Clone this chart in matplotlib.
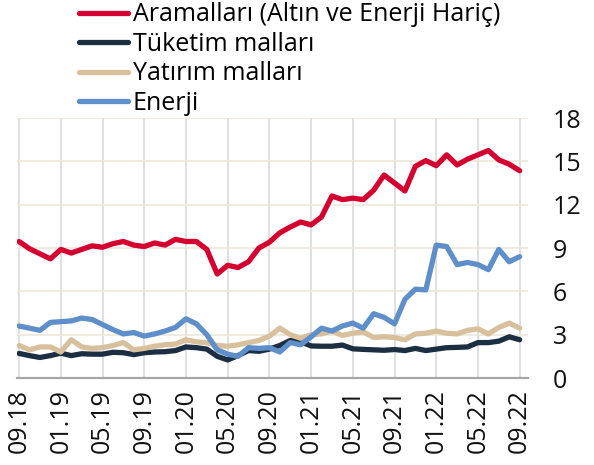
import matplotlib
matplotlib.use('Agg')
import matplotlib.pyplot as plt
import numpy as np

plt.rcParams['font.family'] = ['Open Sans', 'DejaVu Sans']

# monthly series, 09.18 .. 09.22
ara_mallari = [9.45, 8.95, 8.6, 8.25, 8.9, 8.65, 8.9, 9.15, 9.05, 9.3,
               9.45, 9.2, 9.1, 9.35, 9.2, 9.6, 9.45, 9.45, 8.9, 7.2,
               7.8, 7.65, 8.05, 9.0, 9.4, 10.05, 10.45, 10.8, 10.6, 11.15,
               12.6, 12.35, 12.45, 12.35, 13.0, 14.05, 13.5, 12.95, 14.65, 15.05,
               14.7, 15.45, 14.75, 15.15, 15.45, 15.75, 15.1, 14.8, 14.35]
tuketim = [1.7, 1.55, 1.42, 1.55, 1.72, 1.55, 1.68, 1.65, 1.65, 1.78,
           1.75, 1.62, 1.75, 1.8, 1.82, 1.9, 2.15, 2.1, 2.0, 1.5,
           1.25, 1.55, 1.9, 1.85, 2.0, 2.25, 2.6, 2.5, 2.22, 2.2,
           2.2, 2.28, 2.02, 1.98, 1.95, 1.92, 1.97, 1.9, 2.05, 1.9,
           2.0, 2.1, 2.12, 2.15, 2.45, 2.45, 2.55, 2.85, 2.65]
yatirim = [2.25, 1.95, 2.15, 2.15, 1.8, 2.65, 2.15, 2.05, 2.1, 2.25,
           2.45, 1.95, 2.05, 2.2, 2.3, 2.35, 2.65, 2.5, 2.45, 2.25,
           2.2, 2.3, 2.45, 2.6, 2.9, 3.45, 3.0, 2.75, 3.0, 3.05,
           3.25, 2.95, 3.1, 3.2, 2.8, 2.85, 2.8, 2.65, 3.05, 3.1,
           3.25, 3.1, 3.05, 3.3, 3.4, 3.05, 3.5, 3.8, 3.45]
enerji = [3.6, 3.45, 3.3, 3.85, 3.9, 3.95, 4.15, 4.05, 3.7, 3.35,
          3.05, 3.15, 2.9, 3.05, 3.25, 3.5, 4.1, 3.75, 3.0, 1.95,
          1.65, 1.5, 2.1, 2.05, 2.1, 1.8, 2.45, 2.3, 2.85, 3.45,
          3.25, 3.6, 3.8, 3.45, 4.45, 4.2, 3.75, 5.45, 6.15, 6.1,
          9.2, 9.1, 7.85, 8.0, 7.85, 7.5, 8.9, 8.05, 8.4]
tick_labels = ['09.18', '01.19', '05.19', '09.19', '01.20', '05.20', '09.20',
               '01.21', '05.21', '09.21', '01.22', '05.22', '09.22']

series = [
    ('Aramalları (Altın ve Enerji Hariç)', ara_mallari, '#d4002f'),
    ('Tüketim malları', tuketim, '#1c2e42'),
    ('Yatırım malları', yatirim, '#d8c09c'),
    ('Enerji', enerji, '#5f8fca'),
]

fig = plt.figure(figsize=(5.94, 4.65), dpi=100)
ax = fig.add_axes([17 / 594, 87 / 465, 511 / 594, 260 / 465])

x = np.arange(len(ara_mallari))
handles = []
for name, vals, col in series:
    h, = ax.plot(x, vals, color=col, lw=3.8, solid_joinstyle='round',
                 solid_capstyle='round', label=name, zorder=3)
    handles.append(h)

ax.set_xlim(-0.2, 48.8)
ax.set_ylim(0, 18)
ax.set_yticks(np.arange(0, 19, 3))
ax.set_xticks(np.arange(0, 49, 4))
ax.set_xticklabels(tick_labels, rotation=90)

ax.yaxis.tick_right()
ax.tick_params(axis='y', length=0, pad=18, labelsize=18, colors='#111111')
ax.tick_params(axis='x', length=0, pad=8, labelsize=18, colors='#111111')

for s in ['top', 'left', 'right']:
    ax.spines[s].set_visible(False)
ax.spines['bottom'].set_color('#a6a6a6')
ax.spines['bottom'].set_linewidth(1.6)

ax.yaxis.grid(True, color='#ece8dc', lw=1.2)
ax.xaxis.grid(True, color='#dadada', lw=1.2)
ax.set_axisbelow(True)

fig.legend(handles=handles, loc='upper left', bbox_to_anchor=(79 / 594, 0.995),
           frameon=False, fontsize=18, handlelength=1.95, handletextpad=0.2,
           labelspacing=0.18, borderpad=0, borderaxespad=0)

fig.savefig('out.png', dpi=100)
